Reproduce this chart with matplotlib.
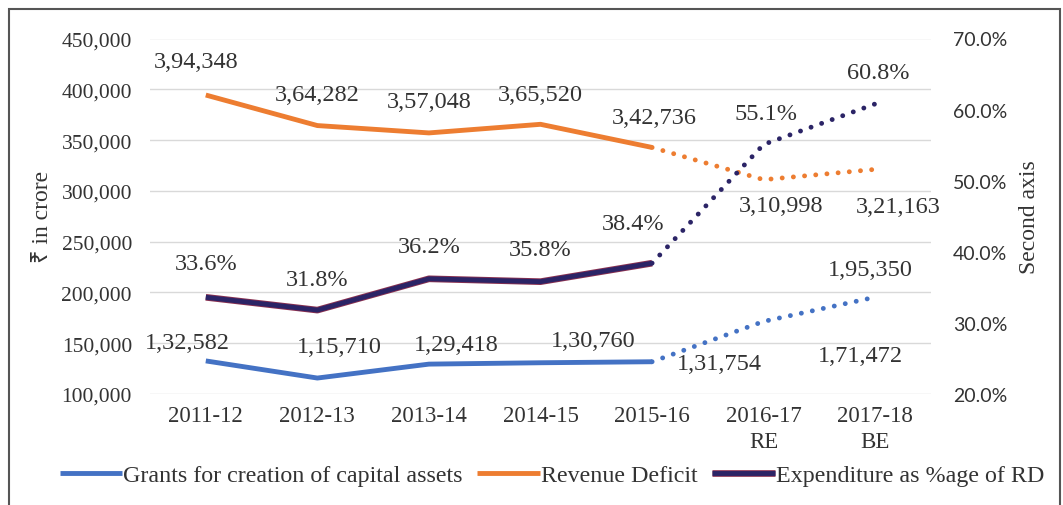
import matplotlib.pyplot as plt
import matplotlib.patheffects as pe
from matplotlib.patches import Rectangle
from matplotlib.ticker import FuncFormatter

years = ['2011-12', '2012-13', '2013-14', '2014-15', '2015-16', '2016-17\nRE', '2017-18\nBE']
grants = [132582, 115710, 129418, 130760, 131754, 171472, 195350]
revenue_deficit = [394348, 364282, 357048, 365520, 342736, 310998, 321163]
exp_pct = [33.6, 31.8, 36.2, 35.8, 38.4, 55.1, 60.8]

# label offsets in pixels (dx, dy), as placed in the original chart
grant_off = [(-18, 18), (22, 32), (27, 20), (53, 22), (67, -2), (97, -34), (-5, 28)]
rev_off = [(-10, 34), (0, 31), (0, 31), (0, 30), (2, 30), (17, -26), (23, -37)]
exp_off = [(0, 34), (0, 31), (0, 32), (0, 32), (-19, 40), (2, 31), (3, 31)]

BLUE = '#4472c4'
ORANGE = '#ed7d31'
NAVY = '#2b2466'
SERIF = ['Liberation Serif', 'DejaVu Serif']
TXT = '#333333'


def indian(n):
    s = str(n)
    head, tail = s[:-3], s[-3:]
    parts = []
    while len(head) > 2:
        parts.insert(0, head[-2:])
        head = head[:-2]
    if head:
        parts.insert(0, head)
    return ','.join(parts + [tail])


fig = plt.figure(figsize=(10.63, 5.06), dpi=100)
fig.patches.append(Rectangle((9 / 1063, -0.02), 1051 / 1063, 496 / 506 + 0.02,
                             transform=fig.transFigure, fill=False,
                             ec='#555555', lw=1.5))

ax = fig.add_axes([150 / 1063, 111 / 506, 781 / 1063, 355.5 / 506])
ax2 = ax.twinx()

x = list(range(len(years)))
solid = slice(0, 5)
dotted = slice(4, 7)
dots = dict(linestyle=(0, (0.01, 2.3)), dash_capstyle='round', lw=3.5)

l1, = ax.plot(x[solid], grants[solid], color=BLUE, lw=3.5,
              label='Grants for creation of capital assets', solid_capstyle='butt')
ax.plot(x[dotted], grants[dotted], color=BLUE, **dots)
l2, = ax.plot(x[solid], revenue_deficit[solid], color=ORANGE, lw=3.5,
              label='Revenue Deficit', solid_capstyle='butt')
ax.plot(x[dotted], revenue_deficit[dotted], color=ORANGE, **dots)
l3, = ax2.plot(x[solid], exp_pct[solid], color=NAVY, lw=3.5,
               label='Expenditure as %age of RD', solid_capstyle='butt',
               path_effects=[pe.Stroke(linewidth=4.8, foreground='#8a3050'), pe.Normal()])
ax2.plot(x[dotted], exp_pct[dotted], color=NAVY, **dots)

for i in x:
    ax.annotate(indian(grants[i]), (i, grants[i]), xytext=grant_off[i],
                textcoords='offset pixels', ha='center', va='center',
                fontsize=17.5, family=SERIF, color=TXT)
    ax.annotate(indian(revenue_deficit[i]), (i, revenue_deficit[i]), xytext=rev_off[i],
                textcoords='offset pixels', ha='center', va='center',
                fontsize=17.5, family=SERIF, color=TXT)
    ax2.annotate(f'{exp_pct[i]:.1f}%', (i, exp_pct[i]), xytext=exp_off[i],
                 textcoords='offset pixels', ha='center', va='center',
                 fontsize=17.5, family=SERIF, color=TXT)

ax.set_xlim(-0.5, 6.5)
ax.set_ylim(100000, 450000)
ax.set_yticks(range(100000, 450001, 50000))
ax.yaxis.set_major_formatter(FuncFormatter(lambda v, p: f'{int(v):,}'))
ax2.set_ylim(20, 70)
ax2.set_yticks(range(20, 71, 10))
ax2.yaxis.set_major_formatter(FuncFormatter(lambda v, p: f'{v:.1f}%'))

ax.set_xticks(x)
ax.set_xticklabels(years, family=SERIF, fontsize=16.5, color=TXT, linespacing=1.3)
for t in ax.get_yticklabels():
    t.set_family(SERIF)
    t.set_fontsize(15.5)
    t.set_color(TXT)
for t in ax2.get_yticklabels():
    t.set_family(['Lato', 'DejaVu Sans'])
    t.set_fontsize(14)
    t.set_color(TXT)

ax.tick_params(axis='both', length=0)
ax.tick_params(axis='y', pad=13)
ax.tick_params(axis='x', pad=8)
ax2.tick_params(axis='y', length=0, pad=16)
ax.grid(axis='y', color='#d9d9d9', lw=1)
ax.set_axisbelow(True)
for a in (ax, ax2):
    for s in a.spines.values():
        s.set_visible(False)

ax.set_ylabel('₹ in crore', family=['Liberation Serif', 'Noto Sans', 'DejaVu Sans'],
              fontsize=17, color=TXT, labelpad=6)
ax2.set_ylabel('Second axis', family=SERIF, fontsize=17, color=TXT, labelpad=8)

fig.legend(handles=[l1, l2, l3], loc='center', bbox_to_anchor=(552 / 1063, 1 - 476 / 506),
           ncol=3, frameon=False, prop={'family': SERIF, 'size': 17.3},
           handlelength=2.6, handletextpad=0.05, columnspacing=0.6, labelcolor=TXT)

fig.savefig('out.png', dpi=100)
